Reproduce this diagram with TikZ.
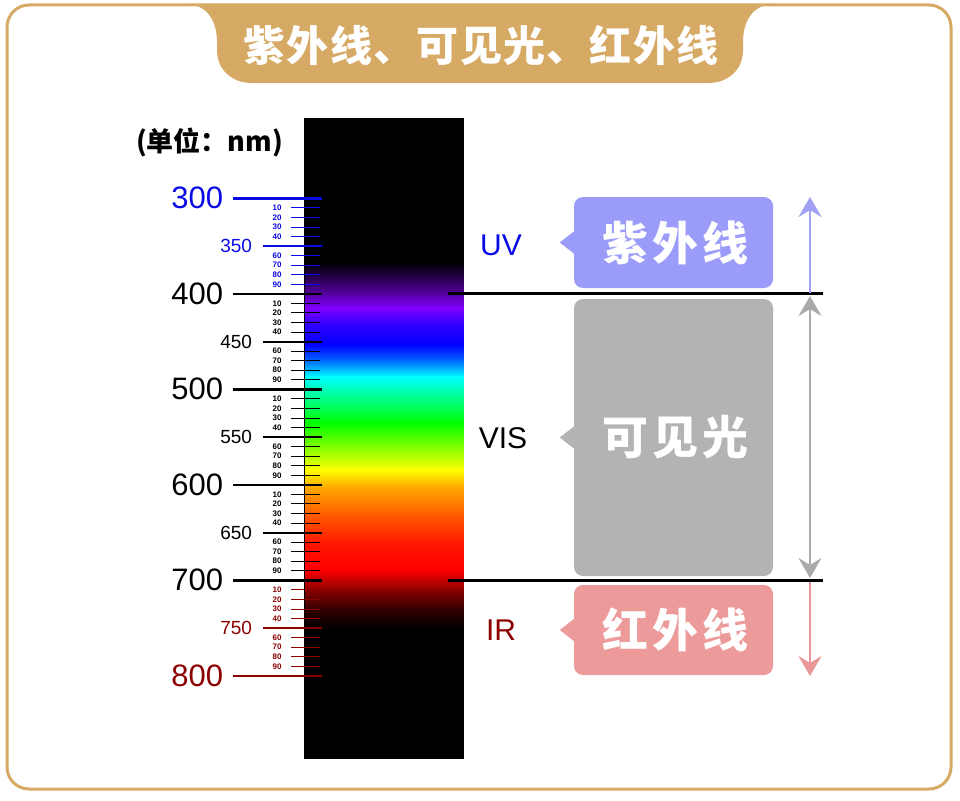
\documentclass[tikz,border=0pt]{standalone}
\usepackage{fontspec}
\setmainfont{Liberation Sans}
\newfontfamily\cjk{Noto Sans CJK SC}
\newfontfamily\cjkwide{Noto Sans CJK SC}[LetterSpace=8]
\newfontfamily\cjktitle{Noto Sans CJK SC}[LetterSpace=3]
\usetikzlibrary{arrows.meta}
\definecolor{gold}{RGB}{214,170,100}
\definecolor{uvblue}{RGB}{10,10,230}
\definecolor{irred}{RGB}{140,0,0}
\definecolor{uvfill}{RGB}{155,155,250}
\definecolor{visfill}{RGB}{179,179,179}
\definecolor{irfill}{RGB}{236,154,154}
\definecolor{uvarrow}{RGB}{160,160,245}
\definecolor{visarrow}{RGB}{170,170,170}
\definecolor{irarrow}{RGB}{233,150,150}
\definecolor{s1}{RGB}{32,0,64}
\definecolor{s2}{RGB}{80,0,150}
\definecolor{s3}{RGB}{128,0,255}
\definecolor{s4}{RGB}{48,0,255}
\definecolor{s5}{RGB}{0,0,255}
\definecolor{s6}{RGB}{0,100,255}
\definecolor{s7}{RGB}{0,255,255}
\definecolor{s8}{RGB}{0,255,0}
\definecolor{s9}{RGB}{255,255,0}
\definecolor{s10}{RGB}{255,170,0}
\definecolor{s11}{RGB}{255,90,0}
\definecolor{s12}{RGB}{255,20,0}
\definecolor{s13}{RGB}{255,0,0}
\definecolor{s14}{RGB}{128,0,0}
\definecolor{s15}{RGB}{48,0,0}
\newcommand\pxsize[1]{\fontsize{#1}{#1}\selectfont}
\tikzset{
  txt/.style={inner sep=0pt, outer sep=0pt},
  bandbox/.style={rounded corners=9pt, minimum width=199pt, inner sep=0pt, text=white, font=\cjkwide\bfseries\pxsize{46}},
  bandlabel/.style={txt, font=\pxsize{30}},
  limitline/.style={line width=3pt, black},
  rangearrow/.style={line width=2.6pt},
  rangetip/.tip={Stealth[length=20pt, width=23pt, inset=7pt]},
}
\begin{document}
\begin{tikzpicture}[x=1pt, y=-1pt]
\useasboundingbox (0,0) rectangle (960,800);
% frame
\draw[gold, line width=3pt, rounded corners=22pt] (7,5) rectangle (951,789);
% title tab
\fill[gold] (185,4) .. controls (208,4) and (217,22) .. (217,42) -- (217,50)
  .. controls (217,70) and (232,83) .. (252,83) -- (708,83)
  .. controls (728,83) and (743,70) .. (743,50) -- (743,42)
  .. controls (743,22) and (752,4) .. (775,4) -- cycle;
\node[txt, text=white, font=\cjktitle\bfseries\pxsize{42}] (title) at (481,45) {紫外线、可见光、红外线};
% unit
\node[txt, anchor=west, font=\cjk\bfseries\pxsize{27}] (unit) at (136,142) {(单位：nm)};
% spectrum bar
\fill[black] (304,118) rectangle (464,759);
\foreach \ya/\ca/\yb/\cb in {262/black/275/s1, 275/s1/292/s2, 292/s2/308/s3, 308/s3/325/s4,
  325/s4/345/s5, 345/s5/360/s6, 360/s6/377/s7, 377/s7/423/s8, 423/s8/470/s9, 470/s9/487/s10,
  487/s10/515/s11, 515/s11/545/s12, 545/s12/570/s13, 570/s13/592/s14, 592/s14/610/s15, 610/s15/628/black}{
  \shade[top color=\ca, bottom color=\cb] (305.5,\ya-0.4) rectangle (463.6,\yb+0.4);
}
% scale
\foreach \w in {300,310,...,800}{
  \pgfmathsetmacro\yy{198.3+(\w-300)*0.955}
  \pgfmathtruncatemacro\rr{mod(\w,100)}
  \pgfmathtruncatemacro\hh{mod(\w,50)}
  \ifnum\w<400 \def\cc{uvblue}\else\ifnum\w>700 \def\cc{irred}\else\def\cc{black}\fi\fi
  \ifnum\rr=0
    \draw[\cc, line width=2.6pt] (233,\yy) -- (322,\yy);
    \node[txt, anchor=east, text=\cc, font=\pxsize{31}] (lab\w) at (223,\yy) {\w};
  \else\ifnum\hh=0
    \draw[\cc, line width=2pt] (263,\yy) -- (322,\yy);
    \node[txt, anchor=east, text=\cc, font=\pxsize{19}] (lab\w) at (252,\yy) {\w};
  \else
    \draw[\cc, line width=0.9pt] (291,\yy) -- (320,\yy);
    \node[txt, text=\cc, font=\bfseries\pxsize{8}] (lab\w) at (277,\yy) {\rr};
  \fi\fi
}
% limit lines
\coordinate (l4a) at (448,293.3); \coordinate (l4b) at (823,293.3);
\coordinate (l7a) at (448,580); \coordinate (l7b) at (823,580);
\draw[limitline] (l4a) -- (l4b);
\draw[limitline] (l7a) -- (l7b);
% boxes
\node[bandbox, fill=uvfill, minimum height=91pt] (uvbox) at (673.5,242.5) {\hspace{4pt}紫外线};
\node[bandbox, fill=visfill, minimum height=277pt] (visbox) at (673.5,437.5) {\hspace{4pt}可见光};
\node[bandbox, fill=irfill, minimum height=90pt] (irbox) at (673.5,630) {\hspace{4pt}红外线};
\foreach \b/\f in {uvbox/uvfill, visbox/visfill, irbox/irfill}{
  \fill[\f] ([yshift=-11pt]\b.west) -- ([xshift=-14pt]\b.west) -- ([yshift=11pt]\b.west) -- cycle;
}
\node[bandlabel, text=uvblue] (uv) at (501,245) {UV};
\node[bandlabel, text=black] (vis) at (503,438) {VIS};
\node[bandlabel, text=irred] (ir) at (501,630) {IR};
% arrows
\coordinate (a1) at (810,293); \coordinate (a2) at (810,197);
\coordinate (a3) at (810,296); \coordinate (a4) at (810,578);
\coordinate (a5) at (810,582); \coordinate (a6) at (810,676);
\draw[rangearrow, uvarrow, -{rangetip}] (a1) -- (a2);
\draw[rangearrow, visarrow, {rangetip}-{rangetip}] (a3) -- (a4);
\draw[rangearrow, irarrow, -{rangetip}] (a5) -- (a6);
\end{tikzpicture}
\end{document}
